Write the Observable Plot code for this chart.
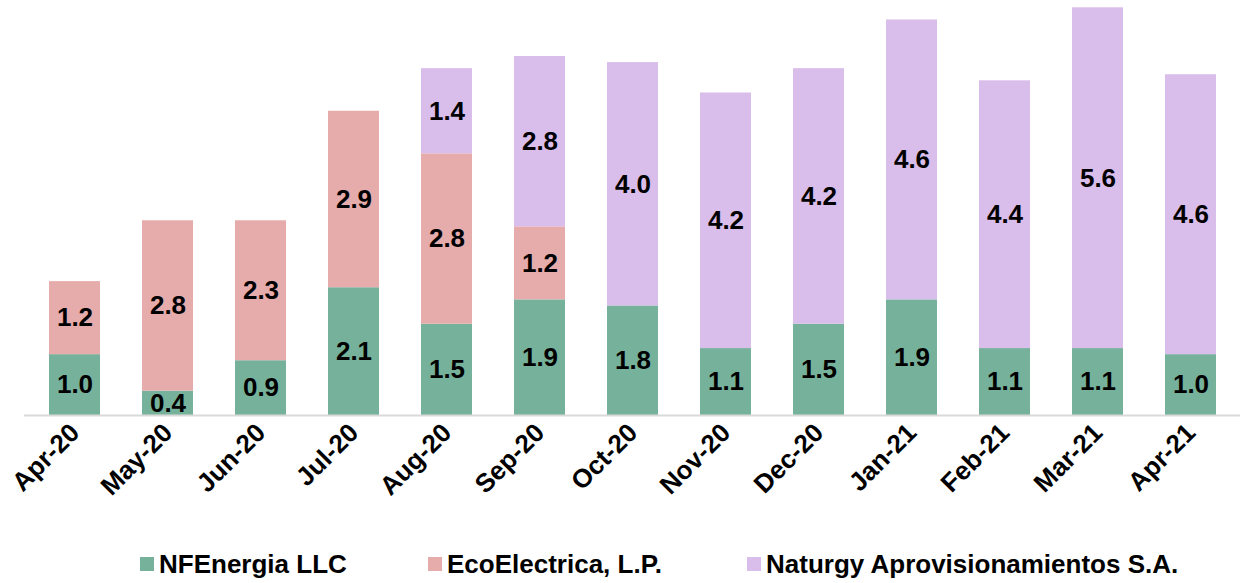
<!DOCTYPE html>
<html>
<head>
<meta charset="utf-8">
<script src="https://cdn.jsdelivr.net/npm/d3@7"></script>
<script src="https://cdn.jsdelivr.net/npm/@observablehq/plot@0.6"></script>
<style>
  html, body { margin: 0; padding: 0; background: #fff; }
  body { width: 1251px; height: 583px; overflow: hidden; font-family: "Liberation Sans", Arial, sans-serif; }
  #legend { position: relative; height: 38px; font-weight: bold; font-size: 26px; color: #000; }
  .item { display: flex; align-items: center; position: absolute; top: 0; height: 38px; white-space: nowrap; }
  .sw { width: 14px; height: 14px; margin-right: 5px; }
</style>
</head>
<body>
<div id="chart"></div>
<div id="legend"></div>
<script>
const months = ["Apr-20","May-20","Jun-20","Jul-20","Aug-20","Sep-20","Oct-20","Nov-20","Dec-20","Jan-21","Feb-21","Mar-21","Apr-21"];
const seriesNames = ["NFEnergia LLC", "EcoElectrica, L.P.", "Naturgy Aprovisionamientos S.A."];
const nfEnergia = [1.0, 0.4, 0.9, 2.1, 1.5, 1.9, 1.8, 1.1, 1.5, 1.9, 1.1, 1.1, 1.0];
const ecoElectrica = [1.2, 2.8, 2.3, 2.9, 2.8, 1.2, 0, 0, 0, 0, 0, 0, 0];
const naturgy = [0, 0, 0, 0, 1.4, 2.8, 4.0, 4.2, 4.2, 4.6, 4.4, 5.6, 4.6];
const colors = ["#76b29b", "#e6abab", "#d9bdeb"];

const seriesValues = [nfEnergia, ecoElectrica, naturgy];
const data = [];
seriesNames.forEach((s, i) => {
  months.forEach((m, j) => {
    const v = seriesValues[i][j];
    if (v > 0) data.push({month: m, series: s, value: v});
  });
});

const H = 545;
const chart = Plot.plot({
  width: 1251,
  height: H,
  marginLeft: 24,
  marginRight: 11,
  marginTop: 0,
  marginBottom: H - 415,
  style: {fontFamily: "'Liberation Sans', Arial, sans-serif", background: "#fff"},
  x: {domain: months, paddingInner: 0.455, paddingOuter: 0.235, label: null},
  y: {domain: [0, 6.82], axis: null},
  color: {domain: seriesNames, range: colors},
  marks: [
    Plot.barY(data, Plot.stackY({x: "month", y: "value", fill: "series", order: seriesNames})),
    Plot.ruleY([0], {stroke: "#d9d9d9", strokeWidth: 2}),
    Plot.text(data, Plot.stackY({x: "month", y: "value", z: "series", order: seriesNames,
      text: d => d.value.toFixed(1), fill: "#000", fontSize: 26, fontWeight: "bold"})),
    Plot.axisX({tickSize: 0, tickRotate: -45, tickPadding: 13, fontSize: 26, fontWeight: "bold", fill: "#000", label: null})
  ]
});
document.getElementById("chart").appendChild(chart);

const legend = document.getElementById("legend");
const xs = [140, 428, 747];
seriesNames.forEach((s, i) => {
  const it = document.createElement("div");
  it.className = "item";
  it.style.left = xs[i] + "px";
  const sw = document.createElement("div");
  sw.className = "sw";
  sw.style.background = colors[i];
  const t = document.createElement("span");
  t.textContent = s;
  it.appendChild(sw);
  it.appendChild(t);
  legend.appendChild(it);
});
</script>
</body>
</html>
